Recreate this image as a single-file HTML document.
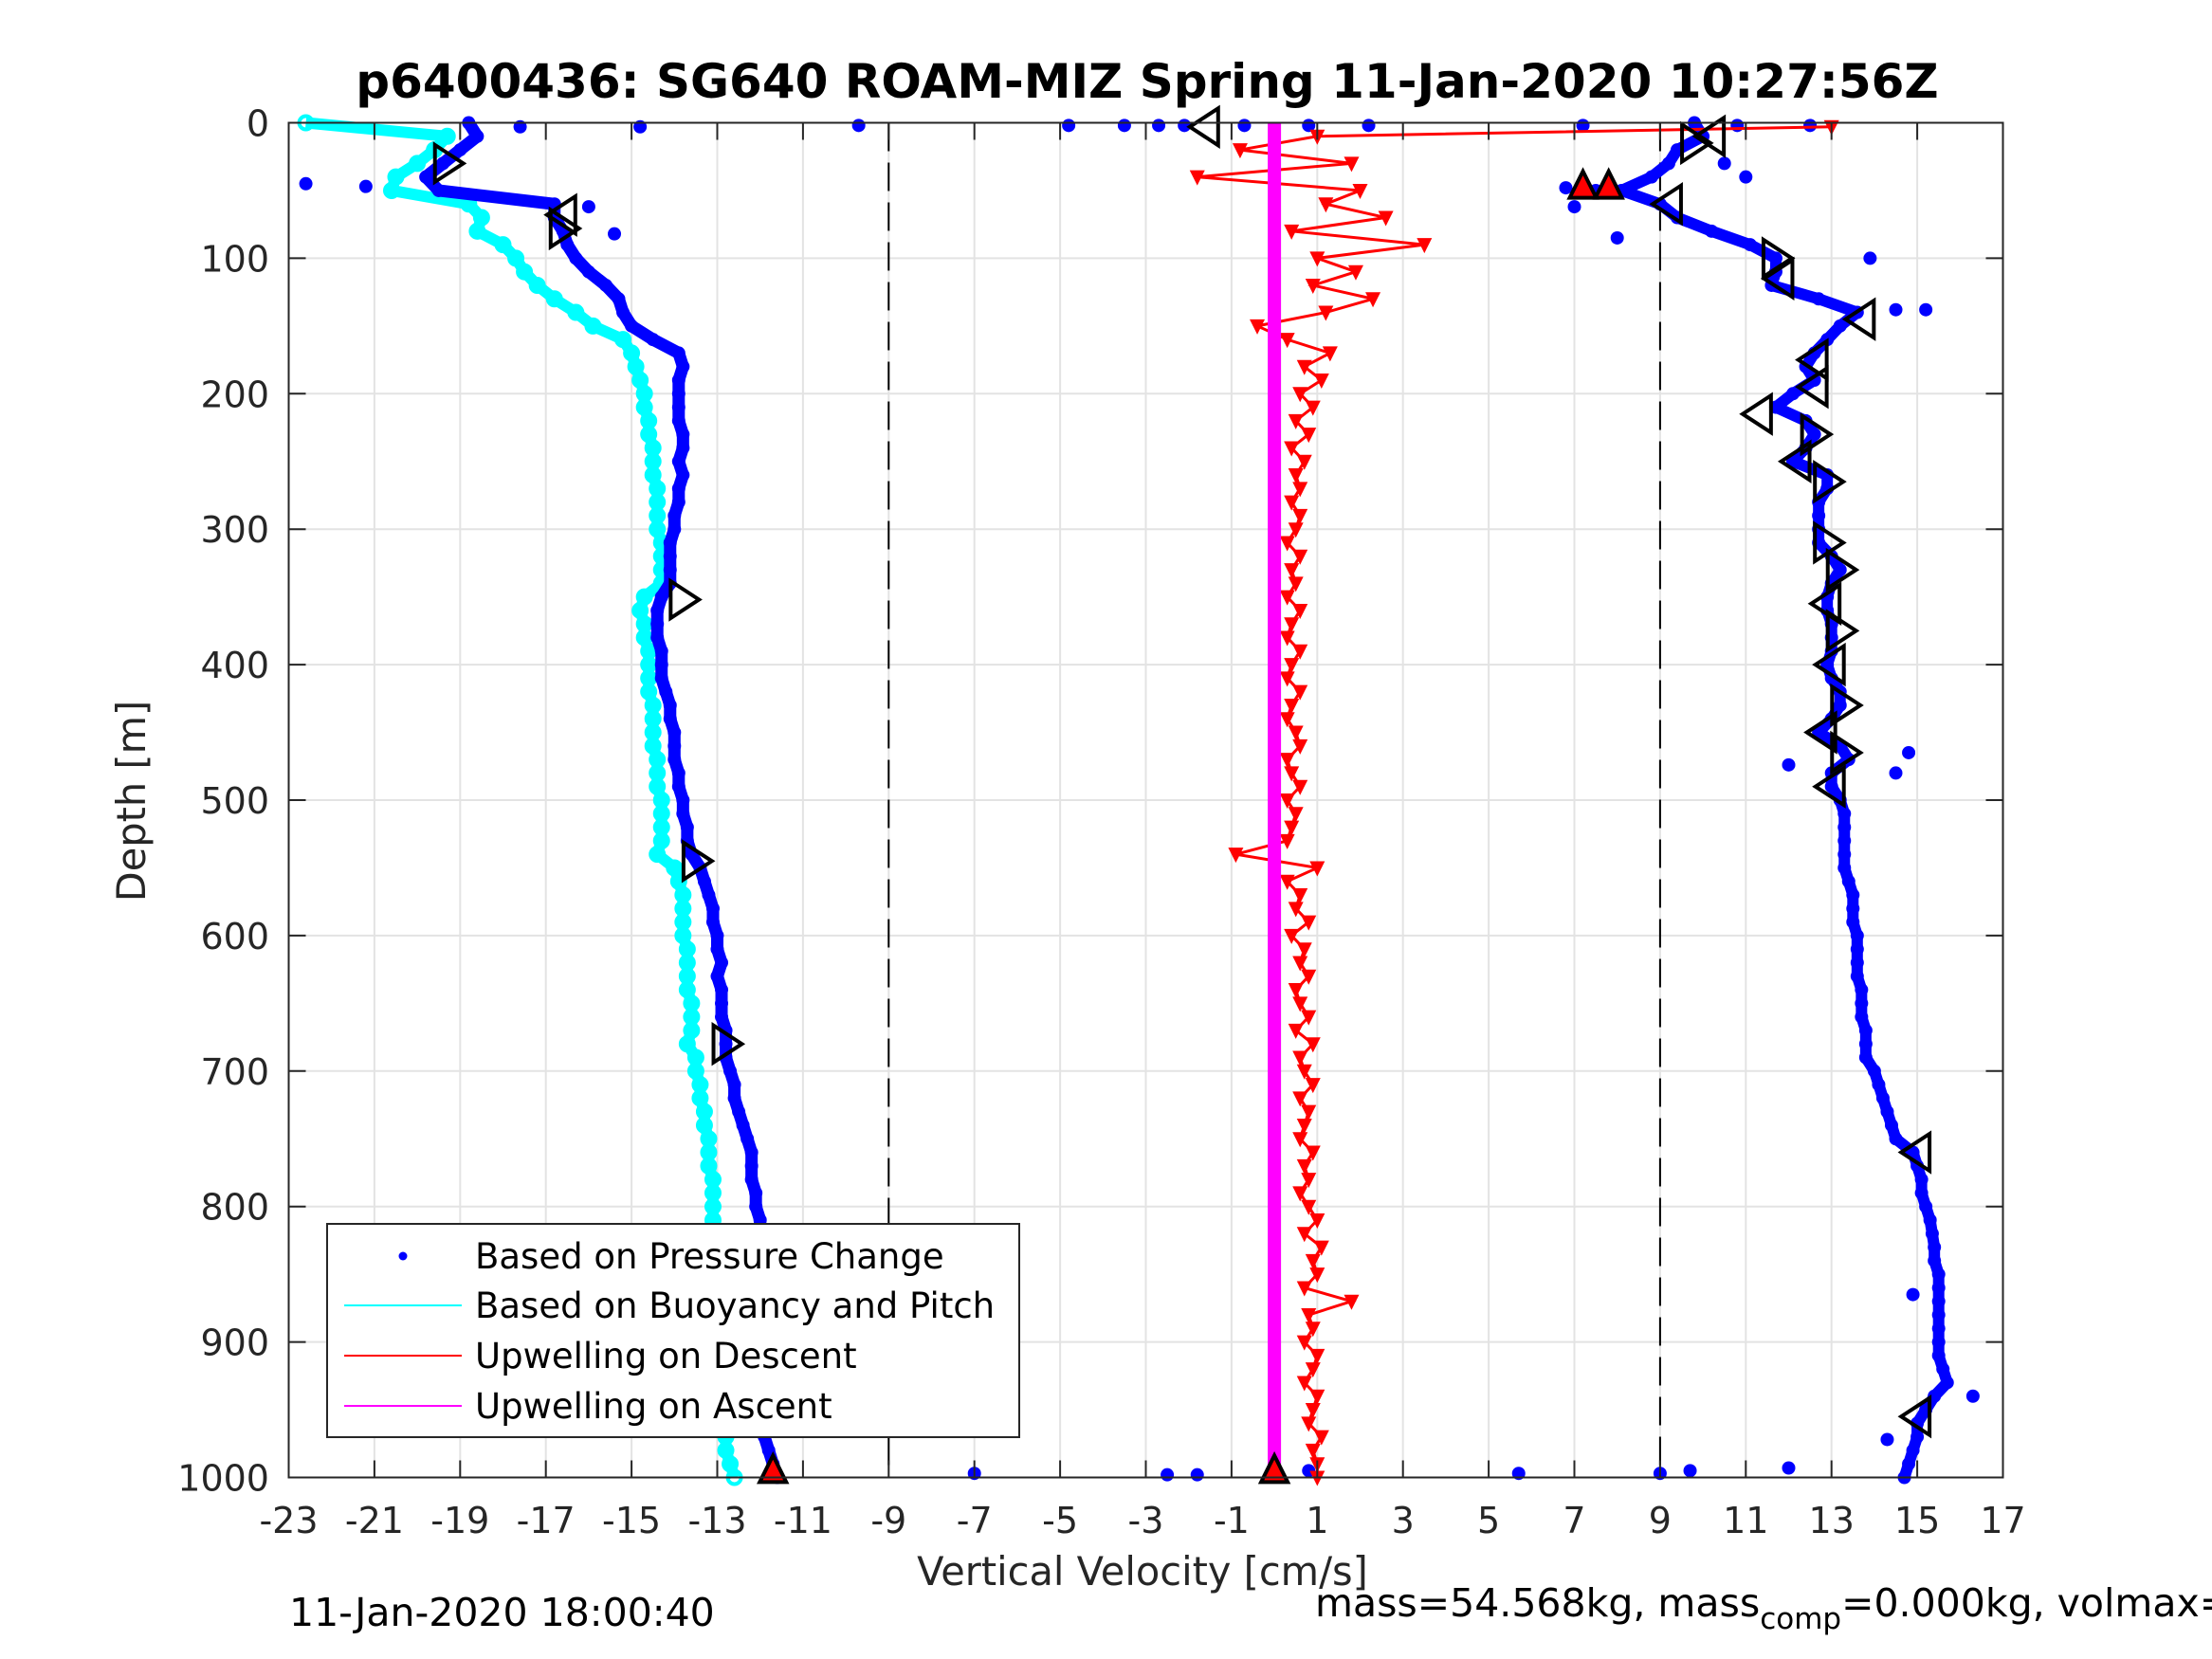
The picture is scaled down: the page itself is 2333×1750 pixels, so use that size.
<!DOCTYPE html>
<html><head><meta charset="utf-8"><style>
html,body{margin:0;padding:0;background:#fff;}
svg{display:block;font-family:"DejaVu Sans","Liberation Sans",sans-serif;}
</style></head><body>
<svg id="chart" width="2333" height="1750" viewBox="0 0 2333 1750" xmlns="http://www.w3.org/2000/svg">
<rect width="2333" height="1750" fill="#fff"/>
<g id="grid"></g>
<g id="marks"></g>
<g id="axes"></g>
<text x="1210" y="103" text-anchor="middle" font-size="50" font-weight="bold" fill="#000">p6400436: SG640 ROAM-MIZ Spring 11-Jan-2020 10:27:56Z</text>
<text x="1205" y="1672" text-anchor="middle" font-size="41.5" fill="#262626">Vertical Velocity [cm/s]</text>
<text transform="translate(153,845) rotate(-90)" text-anchor="middle" font-size="41.5" fill="#262626">Depth [m]</text>
<text x="305" y="1715" font-size="41" fill="#000">11-Jan-2020 18:00:40</text>
<text x="1387" y="1705" font-size="41" fill="#000">mass=54.568kg, mass<tspan dy="13" font-size="31">comp</tspan><tspan dy="-13">=0.000kg, volmax=</tspan></text>
<g>
<rect x="345" y="1291" width="730" height="225" fill="#fff" stroke="#262626" stroke-width="2"/>
<circle cx="425" cy="1325" r="4.5" fill="#0000ff"/>
<text x="501" y="1338" font-size="37" fill="#000">Based on Pressure Change</text>
<line x1="363" y1="1377" x2="487" y2="1377" stroke="#00ffff" stroke-width="2"/>
<text x="501" y="1390" font-size="37" fill="#000">Based on Buoyancy and Pitch</text>
<line x1="363" y1="1430" x2="487" y2="1430" stroke="#ff0000" stroke-width="2"/>
<text x="501" y="1443" font-size="37" fill="#000">Upwelling on Descent</text>
<line x1="363" y1="1483" x2="487" y2="1483" stroke="#ff00ff" stroke-width="2"/>
<text x="501" y="1496" font-size="37" fill="#000">Upwelling on Ascent</text>
</g>
</svg>
<script>
const depths = [0,10,20,30,40,50,60,70,80,90,100,110,120,130,140,150,160,170,180,190,200,210,220,230,240,250,260,270,280,290,300,310,320,330,340,350,360,370,380,390,400,410,420,430,440,450,460,470,480,490,500,510,520,530,540,550,560,570,580,590,600,610,620,630,640,650,660,670,680,690,700,710,720,730,740,750,760,770,780,790,800,810,820,830,840,850,860,870,880,890,900,910,920,930,940,950,960,970,980,990,1000];
const descentPressure = [-18.8,-18.6,-19.0,-19.4,-19.8,-19.5,-16.8,-16.8,-16.6,-16.5,-16.3,-16.0,-15.6,-15.3,-15.2,-15.0,-14.5,-13.9,-13.8,-13.9,-13.9,-13.9,-13.9,-13.8,-13.8,-13.9,-13.8,-13.9,-13.9,-14.0,-14.0,-14.1,-14.1,-14.1,-14.1,-14.3,-14.4,-14.4,-14.4,-14.3,-14.3,-14.3,-14.2,-14.1,-14.1,-14.0,-14.0,-14.0,-13.9,-13.9,-13.8,-13.8,-13.7,-13.7,-13.6,-13.4,-13.3,-13.2,-13.1,-13.1,-13.0,-13.0,-12.9,-13.0,-12.9,-12.9,-12.9,-12.8,-12.8,-12.8,-12.7,-12.6,-12.6,-12.5,-12.4,-12.3,-12.2,-12.2,-12.2,-12.1,-12.1,-12.0,-12.0,-12.0,-12.0,-12.1,-12.1,-12.0,-12.0,-12.0,-12.0,-12.0,-12.0,-12.0,-11.9,-11.9,-11.9,-11.9,-11.8,-11.7,-11.6];
const descentBuoyancy = [-22.6,-19.3,-19.6,-20.0,-20.5,-20.6,-18.8,-18.5,-18.6,-18.0,-17.7,-17.5,-17.2,-16.8,-16.3,-15.9,-15.2,-15.0,-14.9,-14.8,-14.7,-14.7,-14.6,-14.6,-14.5,-14.5,-14.5,-14.4,-14.4,-14.4,-14.4,-14.3,-14.3,-14.3,-14.3,-14.7,-14.8,-14.7,-14.7,-14.6,-14.6,-14.6,-14.6,-14.5,-14.5,-14.5,-14.5,-14.4,-14.4,-14.4,-14.3,-14.3,-14.3,-14.3,-14.4,-14.0,-13.9,-13.8,-13.8,-13.8,-13.8,-13.7,-13.7,-13.7,-13.7,-13.6,-13.6,-13.6,-13.7,-13.5,-13.5,-13.4,-13.4,-13.3,-13.3,-13.2,-13.2,-13.2,-13.1,-13.1,-13.1,-13.1,-13.0,-13.0,-13.0,-13.0,-13.0,-12.9,-12.9,-12.9,-12.9,-12.9,-12.9,-12.9,-12.8,-12.8,-12.8,-12.8,-12.8,-12.7,-12.6];
const ascentPressure = [9.8,10.0,9.4,9.2,8.8,8.1,9.0,9.4,10.2,11.1,11.7,11.7,11.6,12.7,13.6,13.2,12.9,12.6,12.4,12.6,12.1,11.7,12.4,12.6,12.4,12.1,12.9,12.9,12.7,12.7,12.7,12.7,13.0,13.2,13.0,12.9,12.9,13.0,13.0,13.0,12.9,13.0,13.2,13.2,13.0,12.7,13.2,13.4,13.0,13.0,13.2,13.3,13.3,13.3,13.3,13.3,13.4,13.5,13.5,13.5,13.6,13.6,13.6,13.6,13.7,13.7,13.7,13.8,13.8,13.8,14.0,14.1,14.2,14.3,14.4,14.5,14.9,15.0,15.1,15.1,15.2,15.3,15.35,15.4,15.4,15.5,15.5,15.5,15.5,15.5,15.5,15.5,15.6,15.7,15.4,15.2,15.0,15.0,14.9,14.8,14.7];
const upwellDescent = [13.0,1.0,-0.8,1.8,-1.8,2.0,1.2,2.6,0.4,3.5,1.0,1.9,0.9,2.3,1.2,-0.4,0.3,1.3,0.7,1.1,0.6,0.9,0.5,0.8,0.4,0.7,0.5,0.6,0.4,0.6,0.5,0.3,0.6,0.4,0.5,0.3,0.6,0.4,0.3,0.6,0.4,0.3,0.6,0.4,0.3,0.5,0.6,0.3,0.4,0.6,0.3,0.5,0.4,0.3,-0.9,1.0,0.3,0.6,0.5,0.8,0.4,0.7,0.6,0.8,0.5,0.6,0.8,0.5,0.9,0.6,0.7,0.9,0.6,0.8,0.7,0.6,0.9,0.7,0.8,0.6,0.8,1.0,0.7,1.1,0.9,1.0,0.7,1.8,0.8,0.9,0.7,1.0,0.9,0.7,1.0,0.9,0.8,1.1,0.9,1.0,1.0];
const upwellAscent = depths.map(() => 0.0);
const scatterX = [-9.7,-4.8,-3.5,-2.7,-2.1,-0.7,0.8,2.2,7.2,10.8,12.5,-22.6,-21.2,-17.6,-14.8,-16.0,-15.4,-7.0,-2.5,-1.8,0.8,5.7,9.0,9.7,12.0,14.3,6.8,7.0,7.5,10.5,11.0,8.0,13.9,14.5,15.2,14.9,16.3,-11.4,-11.1,12.0,14.8,14.5];
const scatterY = [2,2,2,2,2,2,2,2,2,2,2,45,47,3,3,62,82,997,998,998,995,997,997,995,993,972,48,62,50,30,40,85,100,138,138,865,940,835,862,474,465,480];
const markerX = [-19.3,-16.6,-16.6,-13.8,-13.5,-12.8,-1.6,9.8,10.2,9.2,11.7,11.8,13.7,12.6,12.6,11.3,12.6,12.2,12.9,12.9,13.2,12.9,13.2,13.0,13.3,12.8,13.3,13.0,15.0,15.0];
const markerY = [30,68,78,352,545,680,3,15,10,60,100,115,145,175,195,215,230,250,265,310,330,355,375,400,430,450,465,490,760,955];
const markerDir = ["r","l","r","r","r","r","l","r","l","l","r","l","l","l","l","l","r","l","r","r","r","l","r","l","r","l","r","l","l","l"];
const redTriX = [7.2,7.8,-11.7,0.0];
const redTriY = [47,47,995,995];
const xTicks = [-23,-21,-19,-17,-15,-13,-11,-9,-7,-5,-3,-1,1,3,5,7,9,11,13,15,17];
const yTicks = [0,100,200,300,400,500,600,700,800,900,1000];
const dashedX = [-9,9];

const NS='http://www.w3.org/2000/svg';
const L=304.5,R=2112.5,T=129.5,B=1558.5;
const xMin=-23,xMax=17,yMin=0,yMax=1000;
function px(v){return L+(v-xMin)/(xMax-xMin)*(R-L);}
function py(d){return T+(d-yMin)/(yMax-yMin)*(B-T);}
function mk(tag,attrs,parent){const e=document.createElementNS(NS,tag);for(const k in attrs)e.setAttribute(k,attrs[k]);parent.appendChild(e);return e;}
const grid=document.getElementById('grid'),marks=document.getElementById('marks'),axes=document.getElementById('axes');

xTicks.forEach(v=>{
  const g=mk('line',{x1:px(v),x2:px(v),y1:T,y2:B,stroke:'#e3e3e3','stroke-width':2},grid);
  
  
});
yTicks.forEach(d=>{
  const g=mk('line',{x1:L,x2:R,y1:py(d),y2:py(d),stroke:'#e3e3e3','stroke-width':2},grid);
  
  
});
dashedX.forEach(v=>{
  const g=mk('line',{x1:px(v),x2:px(v),y1:T,y2:B,stroke:'#000','stroke-width':2,'stroke-dasharray':'30,12'},grid);
  
  
});

function pts(xs){return xs.map((v,i)=>px(v)+','+py(depths[i])).join(' ');}
const cl=mk('polyline',{points:pts(descentBuoyancy),fill:'none',stroke:'#00ffff','stroke-width':12,'stroke-linejoin':'round'},marks);


descentBuoyancy.forEach((v,i)=>{
  const c=mk('circle',{cx:px(v),cy:py(depths[i]),r:7,fill:'none',stroke:'#00ffff','stroke-width':4},marks);
  
  
});
const bl=mk('polyline',{points:pts(descentPressure),fill:'none',stroke:'#0000ff','stroke-width':13,'stroke-linejoin':'round'},marks);


descentPressure.forEach((v,i)=>{
  const c=mk('circle',{cx:px(v),cy:py(depths[i]),r:7,fill:'#0000ff'},marks);
  
  
});
const al=mk('polyline',{points:pts(ascentPressure),fill:'none',stroke:'#0000ff','stroke-width':12,'stroke-linejoin':'round'},marks);


ascentPressure.forEach((v,i)=>{
  const c=mk('circle',{cx:px(v),cy:py(depths[i]),r:7,fill:'#0000ff'},marks);
  
  
});
scatterX.forEach((v,i)=>{
  const c=mk('circle',{cx:px(v),cy:py(scatterY[i]),r:7,fill:'#0000ff'},marks);
  
  
});
const rl=mk('polyline',{points:upwellDescent.map((v,i)=>px(v)+','+py(depths[i]+(i===0?3:0))).join(' '),fill:'none',stroke:'#ff0000','stroke-width':3},marks);


upwellDescent.forEach((v,i)=>{
  const x=px(v),y=py(depths[i]+(i===0?3:0));
  const t=mk('polygon',{points:`${x-8},${y-7} ${x+8},${y-7} ${x},${y+9}`,fill:'#ff0000'},marks);
  
  
});
const ml=mk('polyline',{points:pts(upwellAscent),fill:'none',stroke:'#ff00ff','stroke-width':14},marks);


markerX.forEach((v,i)=>{
  const x=px(v),y=py(markerY[i]),s=13;
  const p=markerDir[i]==='r'?`${x-s},${y-s*1.5} ${x+s*1.3},${y} ${x-s},${y+s*1.5}`:`${x+s},${y-s*1.5} ${x-s*1.3},${y} ${x+s},${y+s*1.5}`;
  const t=mk('polygon',{points:p,fill:'none',stroke:'#000','stroke-width':4},marks);
  
  
});
redTriX.forEach((v,i)=>{
  const x=px(v),y=py(redTriY[i]);
  const t=mk('polygon',{points:`${x-14},${y+12} ${x+14},${y+12} ${x},${y-16}`,fill:'#ff0000',stroke:'#000','stroke-width':4},marks);
  
  
});

const bx=mk('rect',{x:L,y:T,width:R-L,height:B-T,fill:'none',stroke:'#262626','stroke-width':2},axes);


xTicks.forEach(v=>{
  const a=mk('line',{x1:px(v),x2:px(v),y1:B,y2:B-18,stroke:'#262626','stroke-width':2},axes);
  
  
  const b=mk('line',{x1:px(v),x2:px(v),y1:T,y2:T+18,stroke:'#262626','stroke-width':2},axes);
  
  
  const t=mk('text',{x:px(v),y:1617,'text-anchor':'middle','font-size':38,fill:'#262626'},axes);
  t.textContent=String(v);
  
  
});
yTicks.forEach(d=>{
  const a=mk('line',{x1:L,x2:L+18,y1:py(d),y2:py(d),stroke:'#262626','stroke-width':2},axes);
  
  
  const b=mk('line',{x1:R,x2:R-18,y1:py(d),y2:py(d),stroke:'#262626','stroke-width':2},axes);
  
  
  const t=mk('text',{x:284,y:py(d)+14,'text-anchor':'end','font-size':38,fill:'#262626'},axes);
  t.textContent=String(d);
  
  
});
</script>
</body></html>
